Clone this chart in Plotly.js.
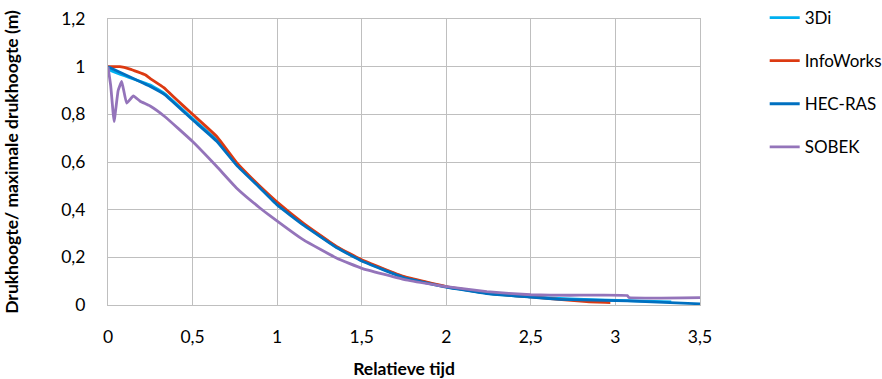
<!DOCTYPE html>
<html>
<head>
<meta charset="utf-8">
<script src="https://cdn.plot.ly/plotly-3.0.1.min.js"></script>
<style>html,body{margin:0;padding:0;background:#fff;}#chart{width:882px;height:379px;}</style>
</head>
<body>
<div id="chart"></div>
<script>
// Series names
const seriesNames = ["3Di", "InfoWorks", "HEC-RAS", "SOBEK"];

// 3Di
const x3Di = [0, 0.02, 0.25, 0.337, 0.5, 0.643, 0.761, 0.9, 1.0, 1.156, 1.353, 1.5, 1.747, 2.0, 2.24, 2.5, 2.73, 3.07, 3.33];
const y3Di = [1, 0.982, 0.923, 0.886, 0.782, 0.692, 0.590, 0.494, 0.424, 0.338, 0.242, 0.187, 0.117, 0.076, 0.049, 0.034, 0.026, 0.018, 0.013];

// InfoWorks
const xInfo = [0, 0.07, 0.13, 0.22, 0.25, 0.33, 0.4, 0.5, 0.643, 0.761, 0.9, 1.0, 1.156, 1.353, 1.5, 1.747, 2.0, 2.24, 2.5, 2.83, 2.97];
const yInfo = [1, 1.0, 0.99, 0.966, 0.950, 0.912, 0.865, 0.800, 0.707, 0.597, 0.497, 0.432, 0.343, 0.245, 0.190, 0.120, 0.077, 0.050, 0.034, 0.014, 0.010];

// HEC-RAS
const xHec = [0, 0.25, 0.337, 0.5, 0.643, 0.761, 0.9, 1.0, 1.156, 1.353, 1.5, 1.747, 2.0, 2.24, 2.5, 2.67, 3.07, 3.5];
const yHec = [1, 0.917, 0.882, 0.777, 0.687, 0.586, 0.490, 0.420, 0.335, 0.240, 0.185, 0.115, 0.075, 0.048, 0.033, 0.024, 0.017, 0.005];

// SOBEK
const xSobek = [0, 0.016, 0.036, 0.06, 0.081, 0.11, 0.15, 0.19, 0.249, 0.337, 0.5, 0.643, 0.761, 0.9, 0.959, 1.156, 1.353, 1.5, 1.747, 2.0, 2.24, 2.5, 2.73, 3.07, 3.08, 3.5];
const ySobek = [1, 0.92, 0.77, 0.90, 0.938, 0.847, 0.877, 0.855, 0.835, 0.790, 0.686, 0.581, 0.490, 0.406, 0.374, 0.273, 0.196, 0.154, 0.108, 0.077, 0.056, 0.043, 0.041, 0.040, 0.031, 0.031];

// Axis ticks
const xTickVals = [0, 0.5, 1, 1.5, 2, 2.5, 3, 3.5];
const xTickText = ["0", "0,5", "1", "1,5", "2", "2,5", "3", "3,5"];
const yTickVals = [0, 0.2, 0.4, 0.6, 0.8, 1, 1.2];
const yTickText = ["0", "0,2", "0,4", "0,6", "0,8", "1", "1,2"];

const colors = ["#00B0F0", "#DC3A12", "#0070C0", "#9474BA"];
const xs = [x3Di, xInfo, xHec, xSobek];
const ys = [y3Di, yInfo, yHec, ySobek];

const FONT = "Lato, 'Open Sans', sans-serif";

const traces = seriesNames.map((n, i) => ({
  type: "scatter",
  mode: "lines",
  name: n,
  legendgroup: n,
  x: xs[i],
  y: ys[i],
  line: {color: colors[i], width: 2.8, shape: "spline", smoothing: 0.3},
  hoverinfo: "skip"
}));

const layout = {
  width: 882,
  height: 379,
  margin: {l: 108, r: 182, t: 19, b: 74, autoexpand: false},
  paper_bgcolor: "#ffffff",
  plot_bgcolor: "#ffffff",
  font: {family: FONT, size: 17, color: "#000"},
  showlegend: true,
  legend: {
    xref: "container", yref: "container",
    x: 0.867, y: 1.0, xanchor: "left", yanchor: "top",
    font: {family: FONT, size: 17, color: "#000"},
    traceorder: "grouped",
    tracegroupgap: 18,
    bgcolor: "rgba(0,0,0,0)"
  },
  xaxis: {
    range: [0, 3.5],
    tickvals: xTickVals,
    ticktext: xTickText,
    showgrid: true,
    gridcolor: "#BFBFBF",
    gridwidth: 1,
    showline: true,
    mirror: true,
    linecolor: "#BFBFBF",
    linewidth: 1,
    zeroline: false,
    ticks: "",
    automargin: false,
    ticklabelstandoff: 16,
    tickfont: {family: FONT, size: 17.5, color: "#000"},
    title: {text: "<b>Relatieve tijd</b>", font: {family: FONT, size: 17.5, color: "#000"}, standoff: 16}
  },
  yaxis: {
    range: [0, 1.2],
    tickvals: yTickVals,
    ticktext: yTickText,
    showgrid: true,
    gridcolor: "#BFBFBF",
    gridwidth: 1,
    showline: true,
    mirror: true,
    linecolor: "#BFBFBF",
    linewidth: 1,
    zeroline: false,
    ticks: "",
    automargin: false,
    ticklabelstandoff: 18,
    tickfont: {family: FONT, size: 17.5, color: "#000"},
    title: {text: "<b>Drukhoogte/ maximale drukhoogte (m)</b>", font: {family: FONT, size: 17.5, color: "#000"}, standoff: 38}
  }
};

Plotly.newPlot("chart", traces, layout, {staticPlot: true, displayModeBar: false});
</script>
</body>
</html>
